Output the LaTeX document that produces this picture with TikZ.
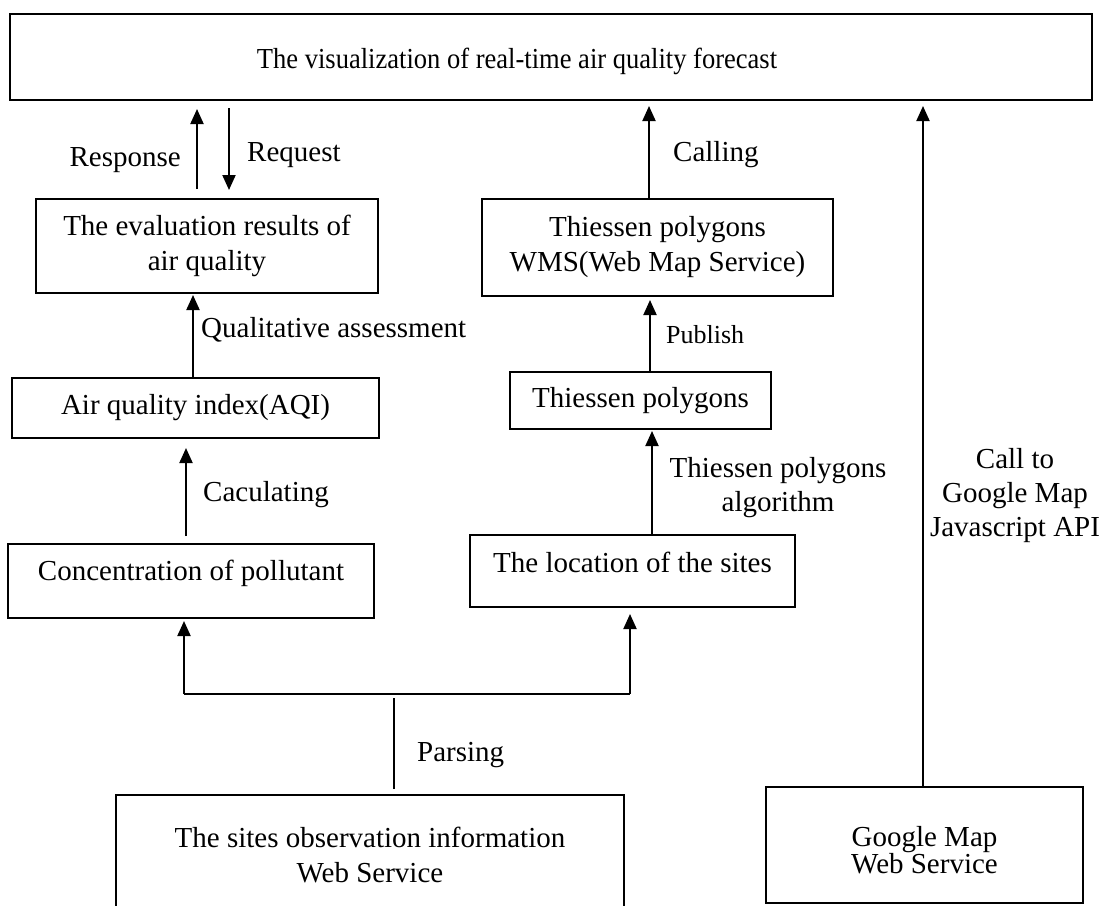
\documentclass[tikz,border=0pt]{standalone}
\usepackage{fontspec}
\setmainfont{Liberation Serif}
\usetikzlibrary{arrows.meta,calc}
\newcommand\myfs{\fontsize{29}{35}\selectfont}
\begin{document}
\begin{tikzpicture}[x=1pt,y=-1pt,
  box/.style={draw, line width=2pt, align=center, inner sep=0pt, font=\myfs},
  lab/.style={inner sep=0pt, font=\myfs, align=center},
  arr/.style={line width=2pt, -{Triangle[length=15pt,width=13pt]}},
  wire/.style={line width=2pt},
  thinwire/.style={line width=1.3pt}
]
\useasboundingbox (0,0) rectangle (1103,905);
\clip (0,0) rectangle (1103,905);

% boxes
\node[box, minimum width=1082pt, minimum height=86pt, text height=29pt, text depth=6pt] (top) at (551,57) {\scalebox{0.915}[1]{The visualization of real-time air quality forecast}\hspace*{68pt}};
\node[box, minimum width=342pt, minimum height=94pt] (eval) at (207,246) {The evaluation results of\\air quality};
\node[box, minimum width=351pt, minimum height=97pt] (wms) at (657.5,247.5) {Thiessen polygons\\WMS(Web Map Service)};
\node[box, minimum width=367pt, minimum height=60pt] (aqi) at (195.5,408) {Air quality index(AQI)};
\node[box, minimum width=261pt, minimum height=57pt] (thp) at (640.5,400.5) {Thiessen polygons};
\node[box, minimum width=366pt, minimum height=74pt, text height=21pt, text depth=22pt] (conc) at (191,581) {Concentration of pollutant};
\node[box, minimum width=325pt, minimum height=72pt, text height=21pt, text depth=18pt] (loc) at (632.5,571) {The location of the sites};
\node[box, minimum width=508pt, minimum height=120pt] (sites) at (370,855) {The sites observation information\\Web Service};
\node[box, minimum width=317pt, minimum height=116pt, font=\fontsize{29}{27}\selectfont] (gm) at (924.5,845) {\rule{0pt}{30pt}Google Map\\Web Service};

% labels
\node[lab, anchor=east] (lresp) at (181,160) {Response};
\node[lab, anchor=west] (lreq) at (247,155) {Request};
\node[lab, anchor=west] (lqual) at (201,330) {Qualitative assessment};
\node[lab, anchor=west] (lcalc) at (203,495) {Caculating};
\node[lab, anchor=west] (lcall) at (673,155) {Calling};
\node[lab, anchor=west, font=\fontsize{26}{30}\selectfont] (lpub) at (666,335) {Publish};
\node[lab, font=\fontsize{29}{34}\selectfont] (lalg) at (778,488) {Thiessen polygons\\algorithm};
\node[lab, font=\fontsize{29}{34}\selectfont] (lgapi) at (1015,496) {Call to\\Google Map\\Javascript API};
\node[lab, anchor=west] (lpar) at (417,755) {Parsing};

% connector anchor points
\coordinate (r1) at ([xshift=-10pt]eval.north);
\coordinate (q1) at ([xshift=22pt]eval.north);
\coordinate (a1) at ([xshift=-2.5pt]aqi.north);
\coordinate (c1) at ([xshift=-5pt]conc.north);
\coordinate (l1) at ([xshift=19.5pt]loc.north);
\coordinate (t1) at ([xshift=9.5pt]thp.north);
\coordinate (w1) at ([xshift=-8.5pt]wms.north);
\coordinate (g1) at ([xshift=-1.5pt]gm.north);
\coordinate (s1) at ([xshift=24pt]sites.north);
\coordinate (jL) at (184,694);
\coordinate (jR) at (630,694);

% connectors
\draw[arr, shorten <=9pt, shorten >=8pt] (r1) -- (r1 |- top.south);
\draw[arr, shorten <=7pt, shorten >=8pt] (q1 |- top.south) -- (q1);
\draw[arr, shorten >=1pt] (a1) -- (a1 |- eval.south);
\draw[arr, shorten <=7pt, shorten >=9pt] (c1) -- (c1 |- aqi.south);
\draw[wire] (jL) -- (jR);
\draw[arr, shorten >=2pt] (jL) -- (jL |- conc.south);
\draw[arr, shorten >=6pt] (jR) -- (jR |- loc.south);
\draw[thinwire, shorten <=5pt, shorten >=4pt] (s1) -- (s1 |- jL);
\draw[arr, shorten >=1pt] (l1) -- (l1 |- thp.south);
\draw[arr, shorten >=3pt] (t1) -- (t1 |- wms.south);
\draw[arr, shorten >=5pt] (w1) -- (w1 |- top.south);
\draw[arr, shorten >=5pt] (g1) -- (g1 |- top.south);
\end{tikzpicture}
\end{document}
